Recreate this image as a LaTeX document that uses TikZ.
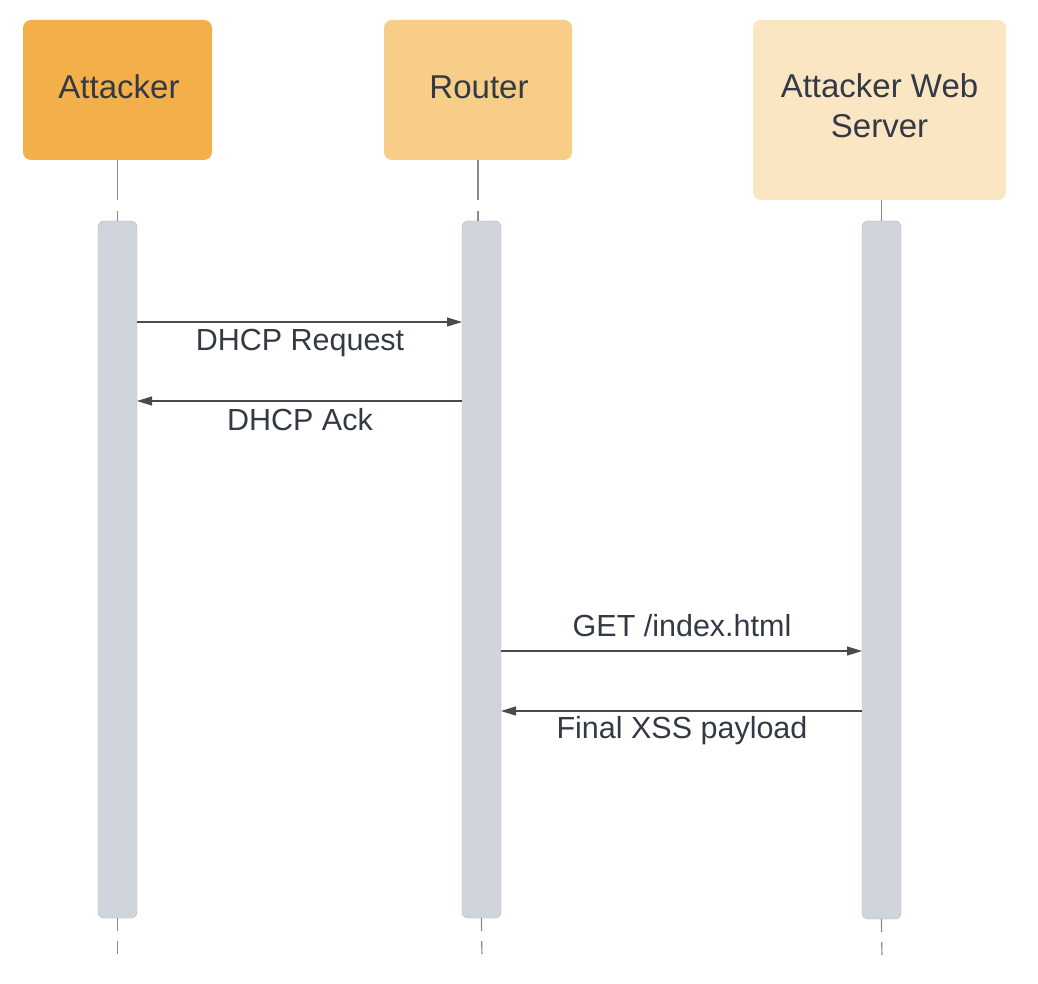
\documentclass[tikz,border=0pt]{standalone}
\usepackage{fontspec}
\setmainfont{Liberation Sans}
\usetikzlibrary{arrows.meta,calc}
\definecolor{hdrA}{HTML}{F3B04A}
\definecolor{hdrB}{HTML}{F7CD88}
\definecolor{hdrC}{HTML}{FBE6C3}
\definecolor{barcol}{HTML}{D0D5DD}
\definecolor{txt}{HTML}{333A45}
\definecolor{linecol}{HTML}{4A4A4A}
\definecolor{lifecol}{HTML}{8A8A8A}
\begin{document}
\begin{tikzpicture}[x=1pt,y=-1pt,
  header/.style={rounded corners=8pt, inner sep=0pt, outer sep=0pt},
  hdrtext/.style={text=txt, font=\fontsize{33}{40}\selectfont, align=center, inner sep=0pt},
  actbar/.style={fill=barcol, draw=barcol!85!black, line width=0.4pt, rounded corners=6pt, minimum width=39pt, inner sep=0pt, outer sep=0pt},
  lifeline/.style={draw=lifecol, line width=1.2pt, dash pattern=on 40pt off 11pt},
  lifelinebot/.style={draw=lifecol, line width=1.2pt, dash pattern=on 13pt off 10pt},
  msg/.style={draw=linecol, line width=1.2pt, -{Triangle[length=15pt,width=9pt]}},
  msglabel/.style={text=txt, font=\fontsize{30.5}{36}\selectfont, inner sep=0pt}
]
\useasboundingbox (0,0) rectangle (1038,984);
% headers
\node[header, fill=hdrA, minimum width=189pt, minimum height=140pt] (hA) at (117.5,90) {};
\node[header, fill=hdrB, minimum width=188pt, minimum height=140pt] (hB) at (478,90) {};
\node[header, fill=hdrC, minimum width=253pt, minimum height=180pt] (hC) at (879.5,110) {};
\node[hdrtext] (tA) at (119,87) {Attacker};
\node[hdrtext] (tB) at (479,87) {Router};
\node[hdrtext] (tC) at (879.5,106) {Attacker Web\\Server};
% activation bars
\node[actbar, minimum height=697pt] (bA) at (117.5,569.5) {};
\node[actbar, minimum height=697pt] (bB) at (481.5,569.5) {};
\node[actbar, minimum height=698pt] (bC) at (881.5,570) {};
% lifelines
\coordinate (eA) at (117.5,956);
\coordinate (eB) at (482,962);
\coordinate (eC) at (882,962);
\draw[lifeline] (hA.south) -- (bA.north -| hA.south);
\draw[lifeline] (hB.south) -- (bB.north -| hB.south);
\draw[lifeline] (hC.south -| bC.north) -- (bC.north);
\draw[lifelinebot] (bA.south) -- (eA);
\draw[lifelinebot] (bB.south) -- (eB);
\draw[lifelinebot] (bC.south) -- (eC);
% message levels
\coordinate (y1) at (0,322);
\coordinate (y2) at (0,401);
\coordinate (y3) at (0,651);
\coordinate (y4) at (0,711);
\draw[msg] (bA.east |- y1) -- (bB.west |- y1);
\draw[msg] (bB.west |- y2) -- (bA.east |- y2);
\draw[msg] (bB.east |- y3) -- (bC.west |- y3);
\draw[msg] (bC.west |- y4) -- (bB.east |- y4);
% labels
\node[msglabel] (l1) at (300,343) {DHCP Request};
\node[msglabel] (l2) at (300,420) {DHCP Ack};
\node[msglabel] (l3) at (682,626) {GET /index.html};
\node[msglabel] (l4) at (682,731) {Final XSS payload};
\end{tikzpicture}
\end{document}
